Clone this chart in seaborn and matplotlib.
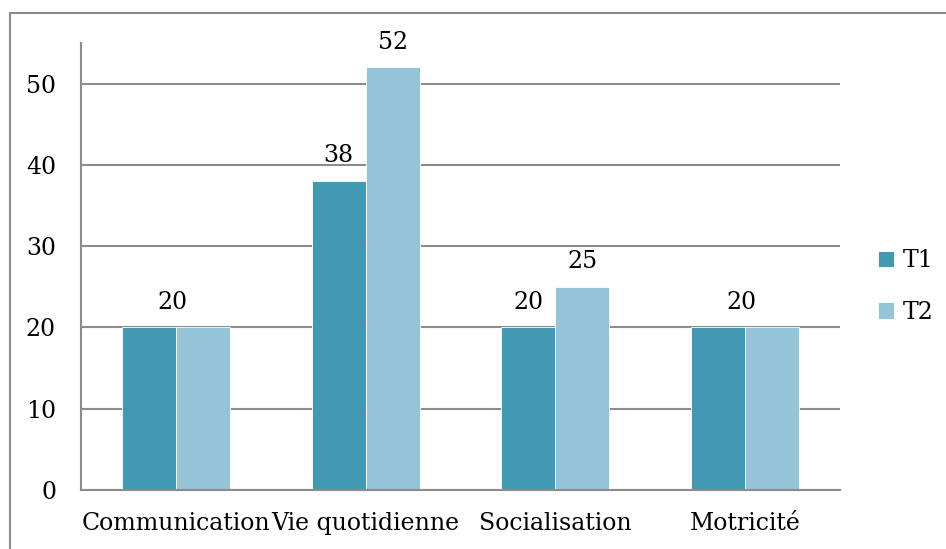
import pandas as pd
import seaborn as sns
import matplotlib.pyplot as plt
from matplotlib.patches import Rectangle

categories = ['Communication', 'Vie quotidienne', 'Socialisation', 'Motricité']
t1_values = [20, 38, 20, 20]
t2_values = [20, 52, 25, 20]
series = ['T1', 'T2']
colors = ['#4399b1', '#94c4d5']

df = pd.DataFrame({
    'categorie': categories * 2,
    'valeur': t1_values + t2_values,
    'serie': ['T1'] * 4 + ['T2'] * 4,
})

sns.set_style('white')
plt.rcParams['font.family'] = ['DejaVu Serif']
plt.rcParams['text.color'] = 'black'
plt.rcParams['xtick.color'] = 'black'
plt.rcParams['ytick.color'] = 'black'

fig = plt.figure(figsize=(9.46, 5.49), dpi=100)
ax = fig.add_axes([81 / 946, 1 - 490 / 549, (840 - 81) / 946, (490 - 43) / 549])

sns.barplot(data=df, x='categorie', y='valeur', hue='serie', palette=colors,
            saturation=1, width=0.57, edgecolor='white', linewidth=0.6, ax=ax)

ax.set_ylim(0, 55)
ax.set_xlim(-0.5, 3.5)
ax.set_yticks(range(0, 51, 10))
ax.yaxis.grid(True, color='#8c8c8c', linewidth=1.5)
ax.set_axisbelow(True)
ax.set_xlabel('')
ax.set_ylabel('')
for side in ['top', 'right']:
    ax.spines[side].set_visible(False)
for side in ['left', 'bottom']:
    ax.spines[side].set_color('#8c8c8c')
    ax.spines[side].set_linewidth(1.5)

ax.tick_params(axis='y', which='major', length=8, width=1.5, color='#8c8c8c',
               direction='out', labelsize=17, pad=10, labelcolor='black')
ax.tick_params(axis='x', which='major', length=0, labelsize=17, pad=16,
               labelcolor='black')
ax.set_xticks([-0.5, 0.5, 1.5, 2.5, 3.5], minor=True)
ax.tick_params(axis='x', which='minor', length=8, width=1.5, color='#8c8c8c',
               direction='out')

# value labels: one label when both series are equal
offset = 0.57 / 4
for i, (a, b) in enumerate(zip(t1_values, t2_values)):
    if a == b:
        ax.text(i - 0.02, a + 1.7, str(a), ha='center', va='bottom', fontsize=17)
    else:
        ax.text(i - offset, a + 1.7, str(a), ha='center', va='bottom', fontsize=17)
        ax.text(i + offset, b + 1.7, str(b), ha='center', va='bottom', fontsize=17)

ax.legend(loc='center left', bbox_to_anchor=(1.022, 0.455), frameon=False,
          fontsize=17, handlelength=0.7, handleheight=0.7, handletextpad=0.35,
          labelspacing=1.2)

fig.patches.append(Rectangle((10 / 946, -0.05), 1.0, 1 - 13 / 549 + 0.05,
                             transform=fig.transFigure, fill=False,
                             edgecolor='#8c8c8c', linewidth=1.5))

fig.savefig('out.png', dpi=100)
